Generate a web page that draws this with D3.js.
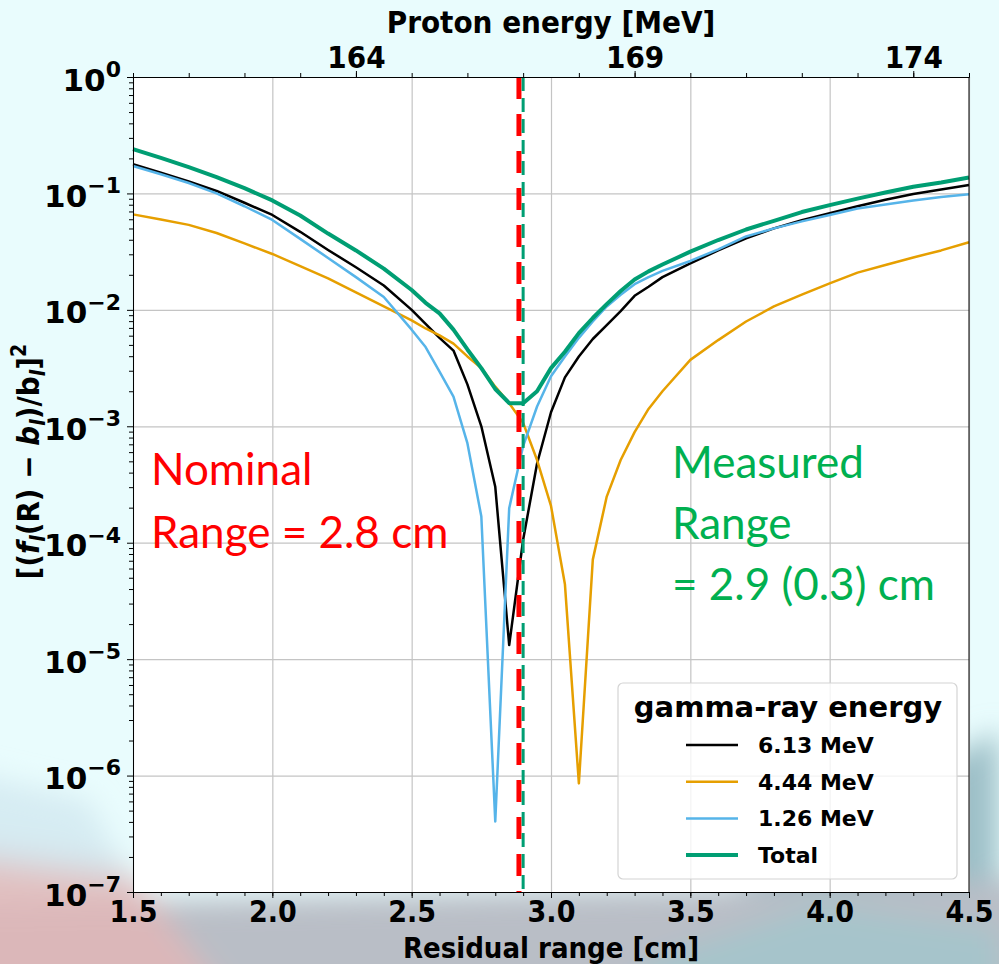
<!DOCTYPE html>
<html>
<head>
<meta charset="utf-8">
<script src="https://cdn.jsdelivr.net/npm/d3@7"></script>
<style>
  body { margin: 0; background: #e9fcfd; }
  svg { display: block; }
  .tick text { font-family: 'DejaVu Sans', sans-serif; font-weight: bold; }
</style>
</head>
<body>
<div id="chart"></div>
<script>
// residual range samples [cm]
var ranges = [1.5, 1.6, 1.7, 1.8, 1.9, 2.0, 2.1, 2.2, 2.3, 2.4, 2.5, 2.55, 2.6, 2.65, 2.7, 2.75, 2.8, 2.85, 2.9, 2.95,
  3.0, 3.05, 3.1, 3.15, 3.2, 3.25, 3.3, 3.35, 3.4, 3.5, 3.6, 3.7, 3.8, 3.9, 4.0, 4.1, 4.2, 4.3, 4.4, 4.5]

var e613 = [0.178, 0.151, 0.127, 0.105, 0.0832, 0.0653, 0.0468, 0.0327, 0.0232, 0.0162, 0.0100, 0.00759, 0.00575, 0.00447, 0.00229, 0.00100, 3.02e-4, 1.32e-5, 1.06e-4, 4.79e-4,
  1.32e-3, 2.63e-3, 3.98e-3, 5.62e-3, 7.41e-3, 9.77e-3, 0.0132, 0.0158, 0.0191, 0.0251, 0.0324, 0.0412, 0.0501, 0.0589, 0.0676, 0.0776, 0.0881, 0.0989, 0.108, 0.118]

var e444 = [0.0661, 0.0596, 0.0537, 0.0457, 0.0372, 0.0302, 0.0237, 0.0186, 0.0141, 0.0107, 0.00813, 0.00692, 0.00603, 0.00513, 0.00398, 0.00316, 0.00219, 0.00158, 0.00107, 5.13e-4,
  2.07e-4, 4.39e-5, 8.57e-7, 7.16e-5, 2.49e-4, 5.13e-4, 8.91e-4, 1.41e-3, 2.00e-3, 3.72e-3, 5.50e-3, 7.94e-3, 0.0107, 0.0135, 0.0169, 0.0209, 0.0243, 0.0282, 0.0324, 0.0381]

var e126 = [0.172, 0.146, 0.123, 0.100, 0.0776, 0.0592, 0.0407, 0.0279, 0.0191, 0.0129, 0.00676, 0.00479, 0.00295, 0.00180, 7.16e-4, 1.68e-4, 4.04e-7, 1.98e-4, 6.76e-4, 1.48e-3,
  2.69e-3, 3.98e-3, 5.75e-3, 7.94e-3, 0.0107, 0.0135, 0.0166, 0.0191, 0.0216, 0.0263, 0.0331, 0.0427, 0.0501, 0.0575, 0.0653, 0.0741, 0.0804, 0.0871, 0.0933, 0.0984]

var total = [0.240, 0.202, 0.168, 0.138, 0.111, 0.0871, 0.0646, 0.0452, 0.0324, 0.0226, 0.0148, 0.0115, 0.00933, 0.00676, 0.00457, 0.00316, 0.00209, 0.00158, 0.00158, 0.00200,
  0.00316, 0.00437, 0.00631, 0.00851, 0.0112, 0.0145, 0.0182, 0.0214, 0.0245, 0.0316, 0.0398, 0.0490, 0.0582, 0.0692, 0.0794, 0.0902, 0.102, 0.114, 0.124, 0.137]

var seriesNames = ['6.13 MeV', '4.44 MeV', '1.26 MeV', 'Total']
var seriesColors = ['#000000', '#e69f00', '#56b4e9', '#009e73']
var seriesWidths = [2.5, 2.5, 2.5, 4]

var xTicks = [1.5, 2.0, 2.5, 3.0, 3.5, 4.0, 4.5]
var yExponents = [0, -1, -2, -3, -4, -5, -6, -7]
var energyDomain = [160, 175]
var energyLabels = [164, 169, 174]

var nominalRange = 2.885
var measuredRange = 2.9

var W = 999, H = 964
var margin = { top: 77, right: 30, bottom: 72, left: 133 },
  width = W - margin.left - margin.right,
  height = H - margin.top - margin.bottom

var svg = d3.select('#chart').append('svg')
  .attr('width', W).attr('height', H)

// backdrop (slide background behind the figure)
var defs = svg.append('defs')
defs.append('filter').attr('id', 'blur')
  .attr('x', '-20%').attr('y', '-20%').attr('width', '140%').attr('height', '140%')
  .append('feGaussianBlur').attr('stdDeviation', 14)
svg.append('rect').attr('width', W).attr('height', H).attr('fill', '#e9fcfd')
var bg = svg.append('g').attr('filter', 'url(#blur)')
bg.append('polygon').attr('points', '600,964 999,730 999,964').attr('fill', '#9dbfc7')
bg.append('polygon').attr('points', '-40,905 1040,880 1040,1000 -40,1000').attr('fill', '#b9bec6')
bg.append('polygon').attr('points', '-40,840 120,860 230,1000 -40,1000').attr('fill', '#e0b6b6').attr('opacity', 0.85)
bg.append('polygon').attr('points', '-40,770 90,800 130,880 -40,860').attr('fill', '#d2e8f0').attr('opacity', 0.8)
bg.append('polygon').attr('points', '640,964 820,905 999,930 999,1000 640,1000').attr('fill', '#a6c4cb')

var g = svg.append('g').attr('transform', 'translate(' + margin.left + ',' + margin.top + ')')

var x = d3.scaleLinear().domain([1.5, 4.5]).range([0, width])
var y = d3.scaleLog().domain([1e-7, 1]).range([height, 0])
var xTop = d3.scaleLinear().domain(energyDomain).range([0, width])

g.append('rect').attr('width', width).attr('height', height).attr('fill', '#ffffff')

// grid
g.append('g')
  .attr('transform', 'translate(0,' + height + ')')
  .call(d3.axisBottom(x).tickValues(xTicks).tickSize(-height).tickFormat(''))
  .call(s => s.select('.domain').remove())
  .selectAll('line').attr('stroke', '#c4c4c4').attr('stroke-width', 1.2)
g.append('g')
  .call(d3.axisLeft(y).tickValues(yExponents.map(e => Math.pow(10, e))).tickSize(-width).tickFormat(''))
  .call(s => s.select('.domain').remove())
  .selectAll('line').attr('stroke', '#c4c4c4').attr('stroke-width', 1.2)

// curves
var line = d3.line()
  .x(function (d) { return x(d[0]) })
  .y(function (d) { return y(d[1]) })

var allSeries = [e613, e444, e126, total]
allSeries.forEach(function (vals, i) {
  g.append('path')
    .datum(ranges.map(function (r, k) { return [r, vals[k]] }))
    .attr('fill', 'none')
    .attr('stroke', seriesColors[i])
    .attr('stroke-width', seriesWidths[i])
    .attr('stroke-linejoin', 'round')
    .attr('d', line)
})

// range markers
g.append('line')
  .attr('x1', x(nominalRange)).attr('x2', x(nominalRange))
  .attr('y1', 0).attr('y2', height)
  .attr('stroke', '#ff0000').attr('stroke-width', 5)
  .attr('stroke-dasharray', '22,15')
g.append('line')
  .attr('x1', x(measuredRange)).attr('x2', x(measuredRange))
  .attr('y1', 0).attr('y2', height)
  .attr('stroke', '#009e73').attr('stroke-width', 3)
  .attr('stroke-dasharray', '14,7')

// axes
var condensed = "'DejaVu Sans Condensed', 'DejaVu Sans', sans-serif"
var minorX = d3.range(15, 46).map(function (v) { return v / 10 })
g.append('g')
  .attr('transform', 'translate(0,' + height + ')')
  .call(d3.axisBottom(x).tickValues(minorX).tickSize(4).tickFormat(''))
g.append('g')
  .attr('transform', 'translate(0,' + height + ')')
  .call(d3.axisBottom(x).tickValues(xTicks).tickSize(6).tickPadding(3).tickFormat(d3.format('.1f')))
  .selectAll('text')
  .style('font-family', condensed)
  .style('font-stretch', 'condensed')
  .style('font-size', '30px')
  .attr('fill', '#000')

var minorY = []
yExponents.slice(1).forEach(function (e) {
  for (var m = 2; m < 10; m++) minorY.push(m * Math.pow(10, e))
})
g.append('g')
  .call(d3.axisLeft(y).tickValues(minorY).tickSize(4).tickFormat(''))
var yAxis = g.append('g')
  .call(d3.axisLeft(y).tickValues(yExponents.map(e => Math.pow(10, e))).tickSize(6).tickFormat(''))
yAxis.selectAll('.tick').each(function (d) {
  var t = d3.select(this).append('text')
    .attr('x', -12).attr('dy', '0.42em')
    .attr('text-anchor', 'end')
    .attr('fill', '#000')
    .style('font-size', '31px')
  var e = Math.round(Math.log10(d))
  t.append('tspan').text('10')
  t.append('tspan').attr('dy', '-0.62em').style('font-size', '22px')
    .text(e < 0 ? '\u2212' + (-e) : String(e))
})

var topAxis = g.append('g')
topAxis.call(d3.axisTop(xTop).tickValues(d3.range(energyDomain[0], energyDomain[1] + 1)).tickSize(4).tickFormat(''))
topAxis.append('g')
  .call(d3.axisTop(xTop).tickValues(energyLabels).tickSize(6).tickPadding(3).tickFormat(d3.format('d')))
  .call(s => s.select('.domain').remove())
  .selectAll('text')
  .style('font-family', condensed)
  .style('font-stretch', 'condensed')
  .style('font-size', '31px')
  .attr('fill', '#000')

g.append('line').attr('x1', width).attr('x2', width).attr('y1', 0).attr('y2', height)
  .attr('stroke', '#000').attr('stroke-width', 1)

g.selectAll('.domain').attr('stroke', '#000')

// axis titles
svg.append('text')
  .attr('x', margin.left + width / 2).attr('y', 33)
  .attr('text-anchor', 'middle')
  .style('font-family', condensed).style('font-stretch', 'condensed')
  .style('font-weight', 'bold').style('font-size', '31px')
  .text('Proton energy [MeV]')
svg.append('text')
  .attr('x', margin.left + width / 2).attr('y', 958)
  .attr('text-anchor', 'middle')
  .style('font-family', condensed).style('font-stretch', 'condensed')
  .style('font-weight', 'bold').style('font-size', '29px')
  .text('Residual range [cm]')

var yl = svg.append('text')
  .attr('transform', 'translate(39,' + (margin.top + height * 0.472) + ') rotate(-90)')
  .attr('text-anchor', 'middle')
  .style('font-family', condensed).style('font-stretch', 'condensed')
  .style('font-weight', 'bold').style('font-size', '31px')
yl.append('tspan').text('[(')
yl.append('tspan').style('font-style', 'italic').text('f')
yl.append('tspan').style('font-style', 'italic').style('font-size', '21px').attr('dy', 6).text('l')
yl.append('tspan').attr('dy', -6).text('(R) \u2212 ')
yl.append('tspan').style('font-style', 'italic').text('b')
yl.append('tspan').style('font-style', 'italic').style('font-size', '21px').attr('dy', 6).text('l')
yl.append('tspan').attr('dy', -6).text(')/b')
yl.append('tspan').style('font-style', 'italic').style('font-size', '21px').attr('dy', 6).text('l')
yl.append('tspan').attr('dy', -6).text(']')
yl.append('tspan').style('font-size', '21px').attr('dy', -13).text('2')

// annotations
var annFont = "Lato, 'Open Sans', sans-serif"
var nominal = svg.append('text')
  .style('font-family', annFont).style('font-size', '44px').attr('fill', '#ff0000')
nominal.append('tspan').attr('x', 151).attr('y', 485).text('Nominal')
nominal.append('tspan').attr('x', 151).attr('y', 548).text('Range = 2.8 cm')

var measured = svg.append('text')
  .style('font-family', annFont).style('font-size', '44px').attr('fill', '#00b050')
measured.append('tspan').attr('x', 672).attr('y', 478).text('Measured')
measured.append('tspan').attr('x', 672).attr('y', 539).text('Range')
measured.append('tspan').attr('x', 672).attr('y', 600).text('= 2.9 (0.3) cm')

// legend
var lg = svg.append('g').attr('transform', 'translate(618,683)')
lg.append('rect')
  .attr('width', 339).attr('height', 196).attr('rx', 5)
  .attr('fill', '#ffffff').attr('fill-opacity', 0.8)
  .attr('stroke', '#d4d4d4').attr('stroke-width', 1.2)
lg.append('text')
  .attr('x', 170).attr('y', 34).attr('text-anchor', 'middle')
  .style('font-family', "'DejaVu Sans', sans-serif").style('font-weight', 'bold')
  .style('font-size', '29px')
  .text('gamma-ray energy')
seriesNames.forEach(function (name, i) {
  var yy = 62 + i * 36.7
  lg.append('line')
    .attr('x1', 68).attr('x2', 120).attr('y1', yy).attr('y2', yy)
    .attr('stroke', seriesColors[i]).attr('stroke-width', seriesWidths[i])
  lg.append('text')
    .attr('x', 140).attr('y', yy + 8)
    .style('font-family', "'DejaVu Sans', sans-serif").style('font-weight', 'bold')
    .style('font-size', '22px')
    .text(name)
})
</script>
</body>
</html>
